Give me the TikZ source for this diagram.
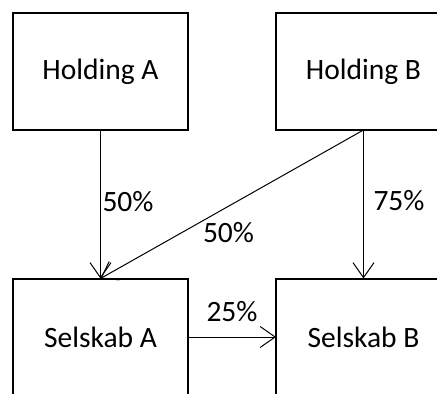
\documentclass[tikz,border=0pt]{standalone}
\usepackage{fontspec}
\setmainfont{Carlito}
\usetikzlibrary{arrows.meta}
\begin{document}
\begin{tikzpicture}[x=1pt,y=-1pt,
  entity/.style={draw, line width=2pt, minimum width=175pt, minimum height=117pt,
    inner sep=0pt, outer sep=0pt, font=\fontsize{29.5}{35}\selectfont},
  share/.style={line width=1pt, -{Straight Barb[length=15pt,width=21pt]}},
  pct/.style={inner sep=0pt, font=\fontsize{29.5}{35}\selectfont}]
  \clip (0,0) rectangle (437,394);
  % companies
  \node[entity] (ha) at (100.5,71.5) {Holding A};
  \node[entity] (hb) at (363.5,71.5) {Holding B};
  \node[entity] (sa) at (100.5,337) {Selskab A};
  \node[entity] (sb) at (363.5,337) {Selskab B};
  % ownership links
  \draw[share] (ha.south) -- (sa.north);
  \draw[share] (hb.south) -- (sa.north);
  \draw[share] (hb.south) -- (sb.north);
  \draw[share] (sa.east) -- (sb.west);
  % ownership shares
  \node[pct] (p1) at (128,202) {50\%};
  \node[pct] (p2) at (228.5,233) {50\%};
  \node[pct] (p3) at (399,200.5) {75\%};
  \node[pct] (p4) at (232,311.5) {25\%};
\end{tikzpicture}
\end{document}
